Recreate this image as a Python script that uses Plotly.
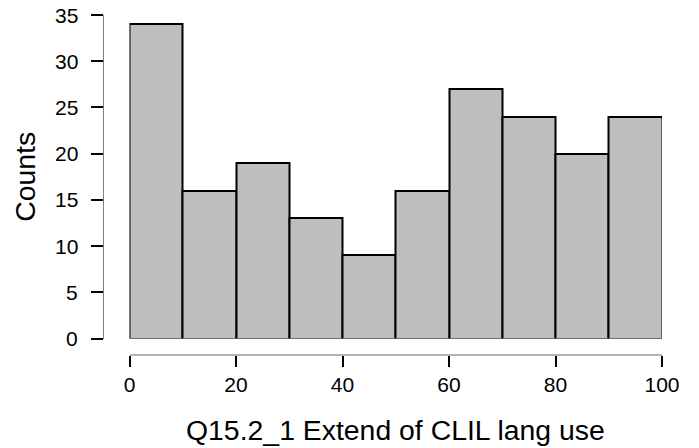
import plotly.graph_objects as go

bin_starts = [0, 10, 20, 30, 40, 50, 60, 70, 80, 90]
counts = [34, 16, 19, 13, 9, 16, 27, 24, 20, 24]
x_ticks = [0, 20, 40, 60, 80, 100]
y_ticks = [0, 5, 10, 15, 20, 25, 30, 35]
x_title = "Q15.2_1 Extend of CLIL lang use"
y_title = "Counts"

W, H = 699, 448
L, R, T, B = 103, 37, 15, 93
pw, ph = W - L - R, H - T - B
x0_px, y0_px = 129.5, 338.5

fig = go.Figure(go.Bar(
    x=[b + 5 for b in bin_starts], y=counts, width=10,
    marker=dict(color="#bebebe", line=dict(color="black", width=2)),
))

font = "Liberation Sans, Arial, sans-serif"
ytick_annots = [
    dict(text=str(v), xref="paper", yref="y", x=(80 - L) / pw, y=v,
         xanchor="right", yanchor="middle", showarrow=False,
         font=dict(size=21, family=font, color="black"))
    for v in y_ticks
]
fig.update_layout(
    width=W, height=H, margin=dict(l=L, r=R, t=T, b=B),
    plot_bgcolor="white", paper_bgcolor="white", showlegend=False,
    font=dict(family=font, color="black"),
    bargap=0,
    xaxis=dict(domain=[(x0_px - L) / pw, 1], range=[0, 100], anchor="free", position=0,
               tickvals=x_ticks, ticks="outside", ticklen=11, tickwidth=2, tickcolor="black",
               showline=True, linecolor="#b4b4b4", linewidth=2, showgrid=False, zeroline=False,
               tickfont=dict(size=21, family=font, color="black")),
    yaxis=dict(domain=[(T + ph - y0_px) / ph, 1], range=[0, 35], anchor="free", position=0,
               tickvals=y_ticks, ticks="outside", ticklen=12, tickwidth=2, tickcolor="black",
               showline=True, linecolor="#808080", linewidth=1, showgrid=False, zeroline=False,
               showticklabels=False),
    annotations=ytick_annots + [
        dict(text=x_title, xref="x", yref="paper", x=50, y=(T + ph - 430) / ph,
             xanchor="center", yanchor="middle", showarrow=False,
             font=dict(size=28.4, family=font, color="black")),
        dict(text=y_title, xref="paper", yref="y", x=(25 - L) / pw, y=17.5,
             xanchor="center", yanchor="middle", showarrow=False, textangle=-90,
             font=dict(size=28.4, family=font, color="black")),
    ],
)

fig.write_html("out.html")
